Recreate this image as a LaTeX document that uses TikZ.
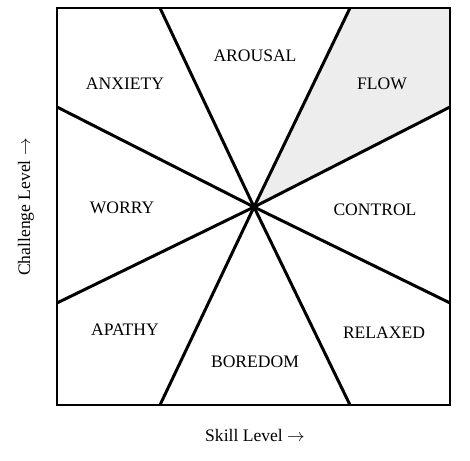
\documentclass[tikz,border=0pt]{standalone}
\usepackage{fontspec}
\setmainfont{Liberation Serif}
\usepackage{xcolor}
\usetikzlibrary{positioning,calc}
\definecolor{flowgray}{rgb}{0.93,0.93,0.93}

\begin{document}
\begin{tikzpicture}[
  x=0.02cm, y=0.02cm, font=\normalsize,
  divider/.style={line width=1.7pt, black},
  zone/.style={font=\normalsize, inner sep=1pt},
  axislabel/.style={font=\normalsize}
]
\useasboundingbox (0,0) rectangle (470,460);

% frame corners and centre
\coordinate (sw) at (57,55);
\coordinate (ne) at (450,452);
\coordinate (mid) at (254,253);

% where the dividers meet the frame
\coordinate (t1) at (160,452);
\coordinate (t2) at (350,452);
\coordinate (b1) at (160,55);
\coordinate (b2) at (350,55);
\coordinate (l1) at (57,353);
\coordinate (l2) at (57,157);
\coordinate (r1) at (450,353);
\coordinate (r2) at (450,157);

% flow sector (shaded)
\fill[flowgray] (mid) -- (t2) -- (ne) -- (r1) -- cycle;

% dividers through the centre
\draw[divider] (t1) -- (mid) -- (b2);
\draw[divider] (t2) -- (mid) -- (b1);
\draw[divider] (l1) -- (mid) -- (r2);
\draw[divider] (l2) -- (mid) -- (r1);

% frame
\draw[divider] (sw) rectangle (ne);

% zone labels
\node[zone] (arousal) at (255,404) {AROUSAL};
\node[zone] (anxiety) at (125,376) {ANXIETY};
\node[zone] (flow)    at (382,376) {FLOW};
\node[zone] (worry)   at (122,252) {WORRY};
\node[zone] (control) at (375,250) {CONTROL};
\node[zone] (apathy)  at (125,130) {APATHY};
\node[zone] (relaxed) at (384,127) {RELAXED};
\node[zone] (boredom) at (255,98)  {BOREDOM};

% axis labels
\node[axislabel] (skill) at (255,25) {Skill Level $\rightarrow$};
\node[axislabel, rotate=90] (challenge) at (26,253) {Challenge Level $\rightarrow$};
\end{tikzpicture}
\end{document}
